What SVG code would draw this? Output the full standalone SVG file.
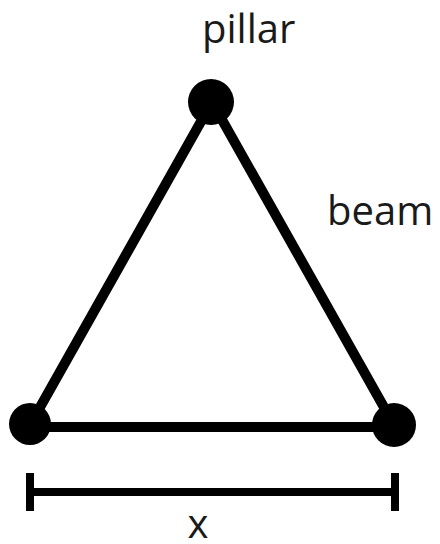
<svg xmlns="http://www.w3.org/2000/svg" width="440" height="544" viewBox="0 0 440 544">
<style>
.edge{stroke:#000;stroke-width:10;stroke-linecap:round;fill:none}
.dim{stroke:#000;stroke-width:8;fill:none}
.node{fill:#000}
.lbl{font-family:"Open Sans","Noto Sans",sans-serif;font-size:40px;fill:#1a1a1a}
</style>
<rect width="440" height="544" fill="#fff"/>
<g id="connectors">
<line class="edge" x1="212" y1="102" x2="30" y2="425"/>
<line class="edge" x1="212" y1="102" x2="394" y2="425"/>
<line class="edge" x1="30" y1="427" x2="394" y2="427"/>
</g>
<g id="node-top"><circle class="node" cx="211" cy="102" r="23"/></g>
<g id="node-left"><circle class="node" cx="30" cy="424" r="21"/></g>
<g id="node-right"><circle class="node" cx="394" cy="425" r="22"/></g>
<g id="dimension">
<line class="dim" x1="30" y1="492" x2="395" y2="492"/>
<line class="dim" x1="30" y1="473" x2="30" y2="511" stroke-width="7"/>
<line class="dim" x1="395" y1="473" x2="395" y2="511" stroke-width="7"/>
</g>
<g id="labels">
<text class="lbl" x="202" y="43">pillar</text>
<text class="lbl" x="327" y="225">beam</text>
<text class="lbl" x="198" y="538" text-anchor="middle">x</text>
</g>
</svg>
